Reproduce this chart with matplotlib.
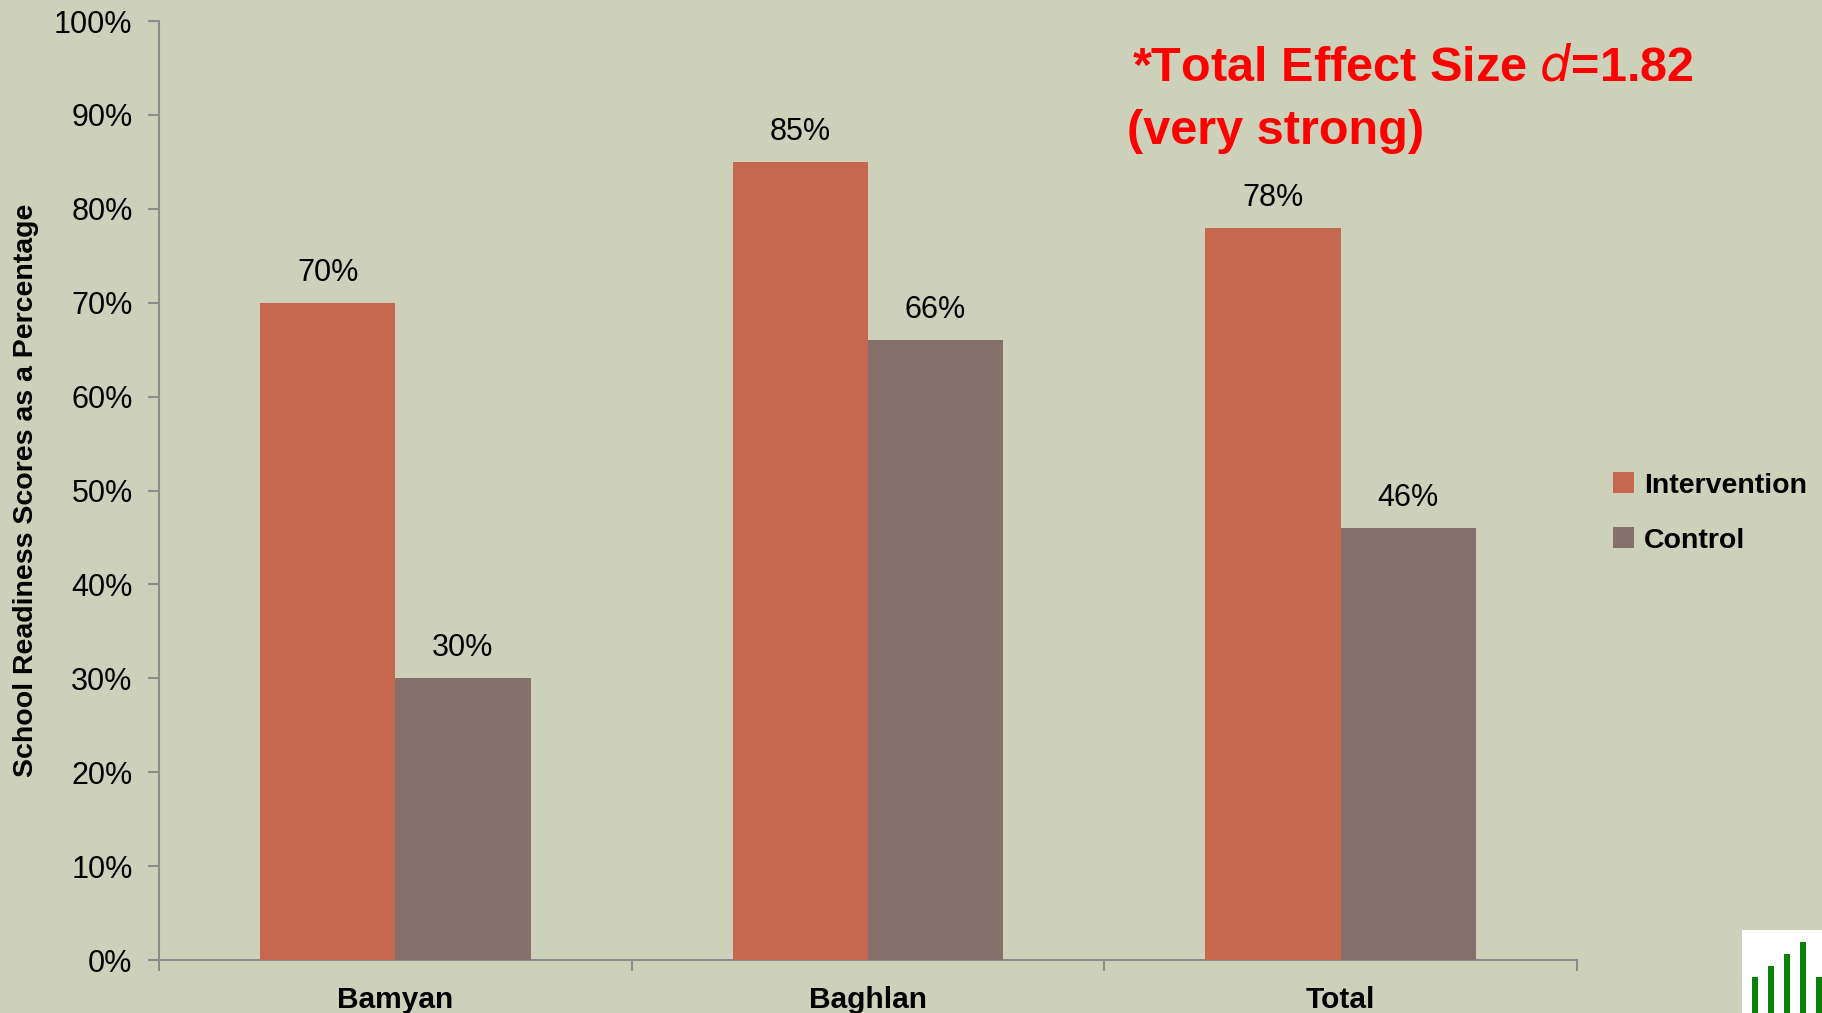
import matplotlib.pyplot as plt
import numpy as np
from matplotlib.ticker import FixedLocator, PercentFormatter

# school readiness results by province
regions = ["Bamyan", "Baghlan", "Total"]
intervention = [70, 85, 78]
control = [30, 66, 46]
yticks = list(range(0, 101, 10))
logo_heights = [3, 4, 5, 6, 3]

BG = "#CDD1B9"
C_INT = "#C5684F"
C_CTL = "#86706B"
AXIS = "#8C8C8C"

plt.rcParams["font.family"] = ["Liberation Sans", "DejaVu Sans"]

fig = plt.figure(figsize=(18.22, 10.13), dpi=100, facecolor=BG)
ax = fig.add_axes([159 / 1822, 1 - 960 / 1013, (1577 - 159) / 1822, (960 - 21) / 1013])
ax.set_facecolor(BG)

x = np.arange(len(regions))
w = 0.286
b1 = ax.bar(x - w / 2, intervention, w, color=C_INT, label="Intervention", zorder=3)
b2 = ax.bar(x + w / 2, control, w, color=C_CTL, label="Control", zorder=3)

for bars, vals in ((b1, intervention), (b2, control)):
    for r, v in zip(bars, vals):
        ax.text(r.get_x() + r.get_width() / 2, v + 1.6, f"{v}%", ha="center", va="bottom",
                fontsize=22, color="black")

ax.set_xlim(-0.5, len(regions) - 0.5)
ax.set_ylim(0, 100)
ax.set_yticks(yticks)
ax.yaxis.set_major_formatter(PercentFormatter(decimals=0))
ax.set_xticks(x)
ax.set_xticklabels(regions, fontsize=21.5, fontweight="bold")
ax.xaxis.set_minor_locator(FixedLocator(np.arange(-0.5, len(regions), 1)))
ax.tick_params(axis="x", which="major", length=0, pad=19)
ax.tick_params(axis="x", which="minor", length=8, width=1.5, color=AXIS, direction="out")
ax.tick_params(axis="y", length=8, width=1.5, color=AXIS, labelsize=22, pad=11, direction="out")

for side in ("top", "right"):
    ax.spines[side].set_visible(False)
for side in ("left", "bottom"):
    ax.spines[side].set_color(AXIS)
    ax.spines[side].set_linewidth(1.5)

fig.text(26 / 1822, 1 - 490 / 1013, "School Readiness Scores as a Percentage", rotation=90,
         ha="center", va="center", fontsize=20.5, fontweight="bold")

leg = ax.legend(loc="center left", bbox_to_anchor=(1.007, 0.476), frameon=False,
                handlelength=0.75, handleheight=0.75, handletextpad=0.35, labelspacing=1.0,
                prop={"weight": "bold", "size": 20.5})

fig.text(1132 / 1822, 1 - 68 / 1013, r"*Total Effect Size $d$=1.82", color="#FF0000",
         fontsize=35, fontweight="bold", va="center", ha="left")
fig.text(1127 / 1822, 1 - 132 / 1013, "(very strong)", color="#FF0000",
         fontsize=35, fontweight="bold", va="center", ha="left")

# small logo in the corner
lax = fig.add_axes([1742 / 1822, 0, 80 / 1822, 83 / 1013])
lax.bar(np.arange(len(logo_heights)), logo_heights, 0.35, color="#0A7F0A")
lax.set_xlim(-0.8, len(logo_heights) - 0.8)
lax.set_ylim(0, 7)
lax.axis("off")
lax.add_patch(plt.Rectangle((0, 0), 1, 1, transform=lax.transAxes, color="white", zorder=0))

fig.savefig("out.png", dpi=100, facecolor=BG)
